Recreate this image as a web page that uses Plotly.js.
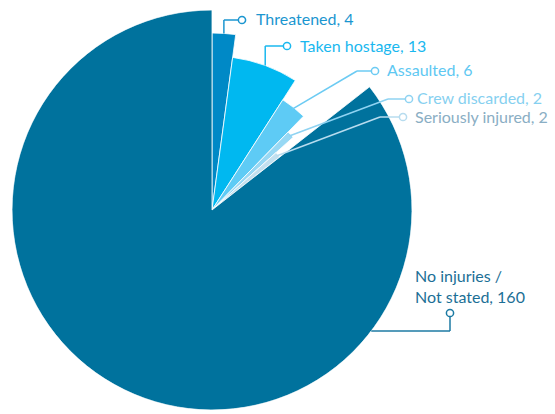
<!DOCTYPE html>
<html>
<head>
<meta charset="utf-8">
<script src="https://cdn.plot.ly/plotly-3.0.1.min.js"></script>
<style>html,body{margin:0;padding:0;background:#fff;}#chart{width:555px;height:414px;}</style>
</head>
<body>
<div id="chart"></div>
<script>
// ---- data ----
const categories = ['Threatened', 'Taken hostage', 'Assaulted', 'Crew discarded', 'Seriously injured', 'No injuries /<br>Not stated'];
const values = [4, 13, 6, 2, 2, 160];

// ---- styles ----
const sliceColors = ['#0089c6', '#00b8f0', '#5ecbf5', '#97d8f4', '#c3e0ef', '#00729d'];
const textColors  = ['#1b96d0', '#1ab8ef', '#5ec8f2', '#86d0f0', '#8aaec4', '#1c6f96'];
const lineColors  = ['#1b96d0', '#1ab8ef', '#6ccbf3', '#8fd3f2', '#b7dcef', '#1c7aa3'];
const radii = [177, 154, 131, 109, 86, 200];

const W = 555, H = 414;
const CX = 212, CY = 210, R = 200;
const px = x => x / W;
const py = y => 1 - y / H;

const total = values.reduce((a, b) => a + b, 0);
const widths = [], mids = [];
let cum = 0;
values.forEach(v => {
  widths.push(v / total * 360);
  mids.push((cum + v / 2) / total * 360);
  cum += v;
});
function polarPx(angDeg, r) {
  const a = angDeg * Math.PI / 180;
  return [CX + r * Math.sin(a), CY - r * Math.cos(a)];
}

const trace = {
  type: 'barpolar',
  r: radii,
  theta: mids,
  width: widths,
  marker: {color: sliceColors, line: {color: '#ffffff', width: 0.8}},
  hoverinfo: 'skip',
  showlegend: false
};

// label layout (pixel positions of the callouts)
const callouts = [
  {elbow: null, elbowY: 20, circle: [242, 20], text: [254, 19]},
  {elbow: null, elbowY: 46, circle: [287, 46], text: [298, 45]},
  {elbow: [357, 71], circle: [375, 71], text: [385, 70]},
  {elbow: [388, 99], circle: [409, 99], text: [415, 98]},
  {elbow: [380, 117], circle: [403, 117], text: [413, 117]},
  {special: true, lineY: 331, circle: [450, 313], text: [413, 286]}
];

const shapes = [];
const annotations = [];
const CR = 3.6;
function seg(p, q, color) {
  shapes.push({type: 'line', xref: 'paper', yref: 'paper',
    x0: px(p[0]), y0: py(p[1]), x1: px(q[0]), y1: py(q[1]),
    line: {color: color, width: 1.5}});
}
function circ(c, color) {
  shapes.push({type: 'circle', xref: 'paper', yref: 'paper',
    x0: px(c[0] - CR), x1: px(c[0] + CR), y0: py(c[1] + CR), y1: py(c[1] - CR),
    line: {color: color, width: 1.5}, fillcolor: '#ffffff'});
}

categories.forEach((cat, i) => {
  const c = callouts[i];
  const col = lineColors[i];
  if (c.special) {
    const dy = c.lineY - CY;
    const start = [CX + Math.sqrt(radii[i] * radii[i] - dy * dy), c.lineY];
    seg(start, [c.circle[0], c.lineY], col);
    seg([c.circle[0], c.lineY], [c.circle[0], c.circle[1] + CR], col);
  } else {
    const anchor = polarPx(mids[i], radii[i]);
    if (c.elbow === null) {
      const el = [anchor[0], c.elbowY];
      seg(anchor, el, col);
      seg(el, [c.circle[0] - CR, c.circle[1]], col);
    } else {
      const inner = polarPx(mids[i], radii[i] - 2);
      seg(inner, c.elbow, col);
      seg(c.elbow, [c.circle[0] - CR, c.circle[1]], col);
    }
  }
  circ(c.circle, col);
  annotations.push({
    xref: 'paper', yref: 'paper', x: px(c.text[0]), y: py(c.text[1]),
    xanchor: 'left', yanchor: 'middle', align: 'left', showarrow: false,
    text: cat + ', ' + values[i],
    font: {family: 'Lato, "Open Sans", sans-serif', size: 16, color: textColors[i]}
  });
});

const layout = {
  width: W, height: H,
  margin: {l: 0, r: 0, t: 0, b: 0},
  paper_bgcolor: '#ffffff',
  showlegend: false,
  polar: {
    domain: {x: [px(CX - R), px(CX + R)], y: [py(CY + R), py(CY - R)]},
    bgcolor: 'rgba(0,0,0,0)',
    bargap: 0,
    radialaxis: {range: [0, R], visible: false, showgrid: false},
    angularaxis: {visible: false, showgrid: false, rotation: 90, direction: 'clockwise'}
  },
  shapes: shapes,
  annotations: annotations
};

Plotly.newPlot('chart', [trace], layout, {displayModeBar: false, staticPlot: true});
</script>
</body>
</html>
